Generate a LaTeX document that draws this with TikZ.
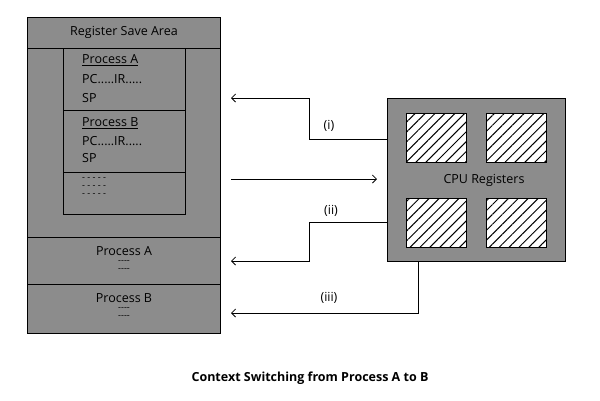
\documentclass[tikz,border=0pt]{standalone}
\usepackage{fontspec}
\setmainfont{Open Sans}
\usetikzlibrary{positioning, arrows.meta, patterns.meta}
\tikzset{
    box/.style={draw, thick, fill=boxgray, inner sep=0pt}, % grey blocks
    reg/.style={draw, thick, preaction={fill=white}, pattern={Lines[angle=45,distance=7pt,line width=1pt]}, minimum width=60pt, minimum height=49pt, inner sep=0pt},
    link/.style={thick, -{Straight Barb[length=4pt]}},
    txt/.style={font=\fontsize{12.5}{14}\selectfont, inner sep=0pt},
    dsh/.style={font=\fontsize{9}{9}\selectfont, inner sep=0pt},
}
\definecolor{boxgray}{HTML}{8C8C8C}
\begin{document}
\begin{tikzpicture}[x=1pt, y=-1pt]
        \useasboundingbox (0,0) rectangle (600,400);
        % save area
        \draw[box] (27,17) rectangle (220,333);
        \draw[thick] (27,48) -- (220,48) (27,237) -- (220,237) (27,284) -- (220,284);
        \draw[thick] (63,48) rectangle (185,214);
        \draw[thick] (63,110) -- (185,110) (63,172) -- (185,172);
        \node[txt] (rsa) at (124,32) {Register Save Area};
        \node[txt, anchor=west] (pa) at (82,60) {\underline{Process A}};
        \node[txt, anchor=west] (pa1) at (82,79) {PC.....IR.....};
        \node[txt, anchor=west] (pa2) at (82,98) {SP};
        \node[txt, anchor=west] (pb) at (82,123) {\underline{Process B}};
        \node[txt, anchor=west] (pb1) at (82,141) {PC.....IR.....};
        \node[txt, anchor=west] (pb2) at (82,158) {SP};
        \node[dsh, anchor=west] (d1) at (82,179) {- - - - -};
        \node[dsh, anchor=west] (d2) at (82,187) {- - - - -};
        \node[dsh, anchor=west] (d3) at (82,195) {- - - - -};
        \node[txt] (lpa) at (124,251) {Process A};
        \node[dsh] (lpa1) at (124,262) {-{}-{}-{}-};
        \node[dsh] (lpa2) at (124,270) {-{}-{}-{}-};
        \node[txt] (lpb) at (124,298) {Process B};
        \node[dsh] (lpb1) at (124,309) {-{}-{}-{}-};
        \node[dsh] (lpb2) at (124,317) {-{}-{}-{}-};

        % cpu
        \node[box, minimum width=178pt, minimum height=163pt] (cpu) at (476,179.5) {};
        \node[reg] (r1) at (436,137.5) {};
        \node[reg] (r2) at (516,137.5) {};
        \node[reg] (r3) at (436,222.5) {};
        \node[reg] (r4) at (516,222.5) {};
        \node[txt] (cpulbl) at (484,180) {CPU Registers};

        % connectors
        \coordinate (o1) at (231,98);
        \coordinate (o2) at (231,179);
        \coordinate (o3) at (231,261);
        \coordinate (o4) at (231,313);
        \draw[link] (cpu.west |- 0,139) -- (309,139) -- (309,98) -- (o1);
        \draw[link] (o2) -- (377,179);
        \draw[link] (cpu.west |- 0,222) -- (309,222) -- (309,261) -- (o3);
        \draw[link] (cpu.south -| 418,0) -- (418,313) -- (o4);
        \node[txt] (li) at (329,126) {(i)};
        \node[txt] (lii) at (331,211) {(ii)};
        \node[txt] (liii) at (329,298) {(iii)};

        \node[txt, font=\fontsize{12.5}{14}\selectfont\bfseries] (title) at (310,378) {Context Switching from Process A to B};
    \end{tikzpicture}
\end{document}
